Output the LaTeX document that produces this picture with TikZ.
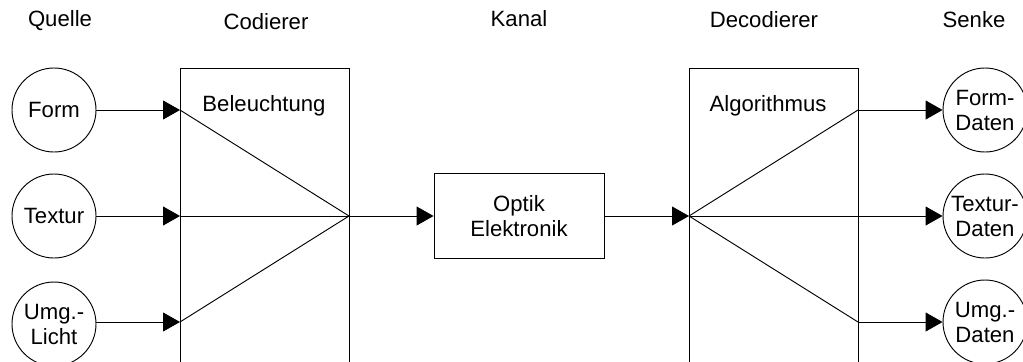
\documentclass[tikz,border=0pt]{standalone}
\usepackage{fontspec}
\setmainfont{Liberation Sans}
\usepackage{tikz}
\usetikzlibrary{arrows.meta, positioning, calc}

\tikzset{
  lbl/.style={font=\fontsize{16.6}{18.75}\selectfont, align=center, inner sep=0pt},
  src/.style={draw, circle, line width=0.7pt, minimum size=63pt, inner sep=0pt,
    font=\fontsize{16.6}{18.75}\selectfont, align=center},
  chanbox/.style={draw, rectangle, line width=0.7pt, minimum width=127.5pt,
    minimum height=63.75pt, font=\fontsize{16.6}{18.75}\selectfont, align=center},
  flow/.style={line width=0.7pt, -{Triangle[length=12.75pt,width=14.25pt]}},
  wire/.style={line width=0.7pt}
}

\begin{document}
\begin{tikzpicture}[x=0.75pt,y=-0.75pt]
  \path[use as bounding box] (0,0) rectangle (1023,361);
  \clip (0,0) rectangle (1023,361);
  \fill[white] (0,0) rectangle (1023,361);

  % top labels
  \node[lbl, anchor=base] (quelle) at (60,26) {Quelle};
  \node[lbl, anchor=base] (codierer) at (266,29) {Codierer};
  \node[lbl, anchor=base] (kanallbl) at (519,26) {Kanal};
  \node[lbl, anchor=base] (decodierer) at (764,27) {Decodierer};
  \node[lbl, anchor=base] (senke) at (974,27) {Senke};

  % Quelle
  \node[src] (form) at (54,110) {Form};
  \node[src] (textur) at (54,216) {Textur};
  \node[src] (umg) at (54,324) {Umg.-\\Licht};

  % Codierer
  \draw[wire] (180,68) rectangle (349,380);
  \node[lbl, anchor=base] (beleuchtung) at (264,111) {Beleuchtung};
  \coordinate (c1) at (180,110);
  \coordinate (c2) at (180,216);
  \coordinate (c3) at (180,322);
  \coordinate (cout) at (349,216);

  % Kanal
  \node[chanbox] (kanal) at (519,216) {Optik\\Elektronik};

  % Decodierer
  \draw[wire] (689,68) rectangle (858,380);
  \node[lbl, anchor=base] (algorithmus) at (768,111) {Algorithmus};
  \coordinate (din) at (689,216);
  \coordinate (d1) at (858,110);
  \coordinate (d2) at (858,216);
  \coordinate (d3) at (858,322);

  % Senke
  \node[src] (formd) at (985,110) {Form-\\Daten};
  \node[src] (texturd) at (985,216) {Textur-\\Daten};
  \node[src] (umgd) at (985,322) {Umg.-\\Daten};

  % connectors
  \draw[flow] (form) -- (c1);
  \draw[flow] (textur) -- (c2);
  \draw[flow] (umg.east |- c3) -- (c3);
  \foreach \c in {c1,c2,c3}{
    \draw[wire] (\c) -- (cout);
  }
  \draw[flow] (cout) -- (kanal);
  \draw[flow] (kanal) -- (din);
  \foreach \d in {d1,d2,d3}{
    \draw[wire] (din) -- (\d);
  }
  \draw[flow] (d1) -- (formd);
  \draw[flow] (d2) -- (texturd);
  \draw[flow] (d3) -- (umgd);
\end{tikzpicture}
\end{document}
